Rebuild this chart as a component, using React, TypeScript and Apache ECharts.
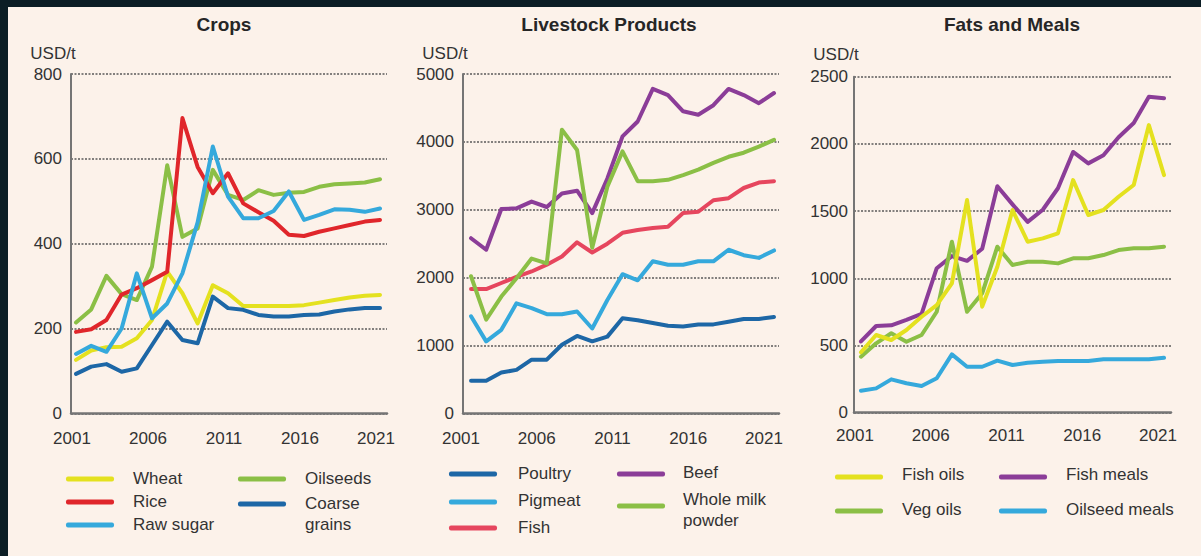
import React, { useEffect, useRef } from "react";
import * as echarts from "echarts";

// ---------- data ----------
const YEARS = [2001, 2002, 2003, 2004, 2005, 2006, 2007, 2008, 2009, 2010, 2011, 2012, 2013, 2014, 2015, 2016, 2017, 2018, 2019, 2020, 2021];
const YEAR_LABELS = [2001, 2006, 2011, 2016, 2021];

// Crops (USD/t)
const WHEAT = [126, 148, 156, 157, 177, 220, 334, 283, 212, 302, 283, 253, 253, 253, 253, 255, 261, 267, 273, 277, 279];
const RICE = [192, 198, 220, 280, 295, 314, 334, 696, 581, 519, 566, 495, 474, 454, 421, 418, 428, 436, 444, 452, 456];
const RAW_SUGAR = [140, 159, 145, 200, 330, 224, 259, 330, 450, 629, 511, 460, 460, 477, 523, 456, 468, 481, 480, 475, 483];
const OILSEEDS = [214, 245, 324, 281, 267, 346, 585, 416, 436, 574, 515, 503, 526, 515, 520, 522, 534, 540, 542, 544, 552];
const COARSE_GRAINS = [93, 110, 116, 98, 106, 161, 216, 173, 165, 275, 248, 244, 232, 228, 228, 232, 233, 240, 245, 248, 248];

// Livestock products (USD/t)
const POULTRY = [480, 480, 600, 640, 790, 790, 1010, 1140, 1060, 1130, 1400, 1370, 1330, 1290, 1280, 1310, 1310, 1350, 1390, 1390, 1420];
const PIGMEAT = [1430, 1060, 1230, 1620, 1550, 1460, 1460, 1500, 1250, 1670, 2050, 1960, 2240, 2190, 2190, 2240, 2240, 2410, 2330, 2290, 2400];
const FISH = [1830, 1830, 1920, 2010, 2090, 2190, 2310, 2520, 2370, 2500, 2660, 2700, 2730, 2750, 2950, 2970, 3140, 3170, 3320, 3400, 3420];
const BEEF = [2580, 2410, 3010, 3020, 3120, 3040, 3240, 3280, 2950, 3460, 4080, 4300, 4780, 4690, 4450, 4400, 4540, 4780, 4690, 4570, 4720];
const WHOLE_MILK_POWDER = [2020, 1380, 1720, 1990, 2280, 2210, 4180, 3880, 2440, 3340, 3860, 3420, 3420, 3440, 3510, 3590, 3690, 3780, 3840, 3930, 4030];

// Fats and meals (USD/t)
const FISH_OILS = [450, 578, 541, 615, 714, 801, 963, 1582, 789, 1086, 1508, 1272, 1297, 1335, 1731, 1471, 1508, 1607, 1694, 2140, 1768];
const VEG_OILS = [417, 516, 591, 528, 578, 751, 1272, 751, 888, 1235, 1099, 1123, 1123, 1111, 1149, 1149, 1173, 1210, 1223, 1223, 1235];
const FISH_MEALS = [530, 645, 650, 690, 735, 1075, 1165, 1130, 1220, 1685, 1550, 1420, 1510, 1670, 1940, 1855, 1915, 2050, 2155, 2350, 2340];
const OILSEED_MEALS = [164, 181, 248, 219, 199, 256, 434, 342, 342, 387, 355, 372, 379, 385, 385, 385, 397, 397, 397, 397, 409];

const TITLES = ["Crops", "Livestock Products", "Fats and Meals"];
const Y_MAX = [800, 5000, 2500];
const Y_INTERVAL = [200, 1000, 500];
const UNIT = "USD/t";

// ---------- styling / layout ----------
const FONT = '"Liberation Sans", Arial, Helvetica, sans-serif';
const TEXT = "#333333";
const C = {
  yellow: "#e4e11f",
  red: "#e0262b",
  sky: "#35a9dc",
  green: "#8bbf46",
  navy: "#1d67a6",
  pink: "#e6465e",
  purple: "#8b3d98",
};

type SeriesDef = { name: string; color: string; values: number[] };
type LegendDef = { lines: string[]; color: string; swatchX: number; textX: number; y: number; textY: number };

const PANELS = [
  {
    titleX: 224,
    grid: { left: 71, top: 74, width: 316, height: 339.3 },
    xMin: 2000.67,
    xMax: 2021.46,
    yMargin: 9,
    xMargin: 17,
    xShift: 8,
    nameGap: 12,
    series: [
      { name: "Oilseeds", color: C.green, values: OILSEEDS },
      { name: "Wheat", color: C.yellow, values: WHEAT },
      { name: "Coarse grains", color: C.navy, values: COARSE_GRAINS },
      { name: "Rice", color: C.red, values: RICE },
      { name: "Raw sugar", color: C.sky, values: RAW_SUGAR },
    ] as SeriesDef[],
    legend: [
      { lines: ["Wheat"], color: C.yellow, swatchX: 66, textX: 133, y: 479, textY: 478 },
      { lines: ["Rice"], color: C.red, swatchX: 66, textX: 133, y: 502, textY: 501 },
      { lines: ["Raw sugar"], color: C.sky, swatchX: 66, textX: 133, y: 525, textY: 524 },
      { lines: ["Oilseeds"], color: C.green, swatchX: 238, textX: 305, y: 479, textY: 478 },
      { lines: ["Coarse", "grains"], color: C.navy, swatchX: 238, textX: 305, y: 504, textY: 503 },
    ] as LegendDef[],
  },
  {
    titleX: 609,
    grid: { left: 463, top: 74, width: 316, height: 339.3 },
    xMin: 2000.47,
    xMax: 2021.33,
    yMargin: 9,
    xMargin: 17,
    xShift: 20,
    nameGap: 12,
    series: [
      { name: "Poultry", color: C.navy, values: POULTRY },
      { name: "Pigmeat", color: C.sky, values: PIGMEAT },
      { name: "Beef", color: C.purple, values: BEEF },
      { name: "Fish", color: C.pink, values: FISH },
      { name: "Whole milk powder", color: C.green, values: WHOLE_MILK_POWDER },
    ] as SeriesDef[],
    legend: [
      { lines: ["Poultry"], color: C.navy, swatchX: 449, textX: 518, y: 474, textY: 473 },
      { lines: ["Pigmeat"], color: C.sky, swatchX: 449, textX: 518, y: 502, textY: 500 },
      { lines: ["Fish"], color: C.pink, swatchX: 449, textX: 518, y: 528, textY: 527 },
      { lines: ["Beef"], color: C.purple, swatchX: 617, textX: 683, y: 474, textY: 472 },
      { lines: ["Whole milk", "powder"], color: C.green, swatchX: 617, textX: 683, y: 506, textY: 499 },
    ] as LegendDef[],
  },
  {
    titleX: 1012,
    grid: { left: 854, top: 76.7, width: 317, height: 336 },
    xMin: 2000.54,
    xMax: 2021.46,
    yMargin: 6,
    xMargin: 14,
    xShift: 12,
    nameGap: 14,
    series: [
      { name: "Oilseed meals", color: C.sky, values: OILSEED_MEALS },
      { name: "Fish meals", color: C.purple, values: FISH_MEALS },
      { name: "Veg oils", color: C.green, values: VEG_OILS },
      { name: "Fish oils", color: C.yellow, values: FISH_OILS },
    ] as SeriesDef[],
    legend: [
      { lines: ["Fish oils"], color: C.yellow, swatchX: 835, textX: 902, y: 477, textY: 474 },
      { lines: ["Veg oils"], color: C.green, swatchX: 835, textX: 902, y: 511, textY: 509 },
      { lines: ["Fish meals"], color: C.purple, swatchX: 999, textX: 1066, y: 477, textY: 474 },
      { lines: ["Oilseed meals"], color: C.sky, swatchX: 999, textX: 1066, y: 511, textY: 509 },
    ] as LegendDef[],
  },
];

function buildOption() {
  const grid = PANELS.map((p) => ({ ...p.grid, containLabel: false }));
  const title = PANELS.map((p, i) => ({
    text: TITLES[i],
    left: p.titleX,
    top: 15,
    textAlign: "center",
    padding: 0,
    textStyle: { fontFamily: FONT, fontSize: 19, fontWeight: "bold", color: "#262626" },
  }));
  const xAxis = PANELS.map((p, i) => ({
    type: "value",
    gridIndex: i,
    min: p.xMin,
    max: p.xMax,
    axisLine: { show: true, onZero: false, lineStyle: { color: "#757575", width: 2.5 } },
    axisTick: { show: false },
    splitLine: { show: false },
    axisLabel: {
      customValues: YEAR_LABELS,
      formatter: (v: number) => String(Math.round(v)),
      fontFamily: FONT,
      fontSize: 17,
      color: TEXT,
      margin: p.xMargin,
      padding: [0, p.xShift, 0, 0],
    },
  }));
  const yAxis = PANELS.map((p, i) => ({
    type: "value",
    gridIndex: i,
    min: 0,
    max: Y_MAX[i],
    interval: Y_INTERVAL[i],
    name: UNIT,
    nameLocation: "end",
    nameGap: p.nameGap,
    nameTextStyle: { fontFamily: FONT, fontSize: 17, color: TEXT, align: "center", padding: [0, 36, 0, 0] },
    axisLine: { show: true, lineStyle: { color: "#757575", width: 2 } },
    axisTick: { show: false },
    axisLabel: {
      fontFamily: FONT,
      fontSize: 17,
      color: TEXT,
      margin: p.yMargin,
      formatter: (v: number) => String(v),
    },
    splitLine: { show: true, lineStyle: { color: "#5a5a5a", width: 1.6, type: [2, 1.5] } },
  }));
  const series: any[] = [];
  PANELS.forEach((p, i) => {
    p.series.forEach((s) => {
      series.push({
        type: "line",
        name: s.name,
        xAxisIndex: i,
        yAxisIndex: i,
        data: YEARS.map((y, k) => [y, s.values[k]]),
        symbol: "none",
        silent: true,
        lineStyle: { width: 4, color: s.color, join: "round", cap: "round" },
        itemStyle: { color: s.color },
        emphasis: { disabled: true },
      });
    });
  });
  const graphic: any[] = [];
  PANELS.forEach((p) => {
    p.legend.forEach((l) => {
      graphic.push({
        type: "rect",
        shape: { x: l.swatchX, y: l.y - 2.5, width: 48, height: 5, r: 2 },
        style: { fill: l.color },
        silent: true,
      });
      l.lines.forEach((line, j) => {
        graphic.push({
          type: "text",
          x: l.textX,
          y: l.textY + j * 21.5,
          silent: true,
          style: { text: line, fill: TEXT, fontFamily: FONT, fontSize: 17, align: "left", verticalAlign: "middle" },
        });
      });
    });
  });
  return {
    animation: false,
    backgroundColor: "transparent",
    title,
    grid,
    xAxis,
    yAxis,
    series,
    graphic,
  };
}

export default function App() {
  const ref = useRef<HTMLDivElement>(null);
  useEffect(() => {
    document.body.style.margin = "0";
    if (!ref.current) return;
    const chart = echarts.init(ref.current, undefined, { renderer: "svg" });
    chart.setOption(buildOption() as any);
    return () => chart.dispose();
  }, []);
  return (
    <div style={{ position: "fixed", left: 0, top: 0, width: 1201, height: 556, background: "#0c1e25", overflow: "hidden" }}>
      <div style={{ position: "absolute", left: 8, top: 7, right: 0, bottom: 0, background: "#fcf2ea" }} />
      <div ref={ref} style={{ position: "absolute", left: 0, top: 0, width: 1201, height: 556 }} />
    </div>
  );
}
